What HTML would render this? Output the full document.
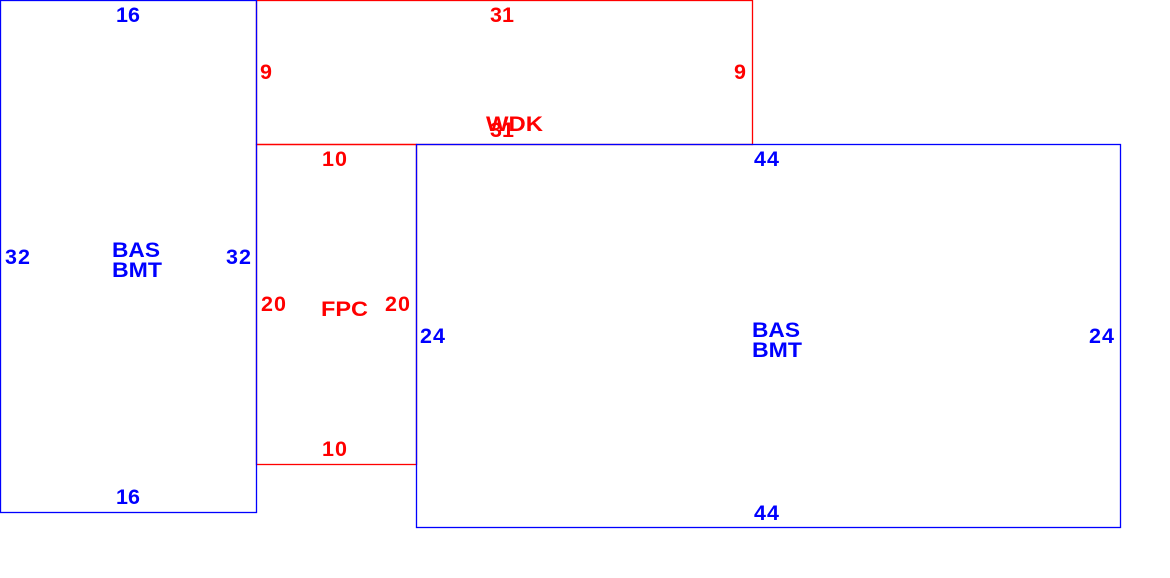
<!DOCTYPE html>
<html><head><style>html,body{margin:0;padding:0;background:#fff;}svg{display:block;}</style></head>
<body>
<svg width="1170" height="578" xmlns="http://www.w3.org/2000/svg" font-family="Liberation Sans, Arial, sans-serif" font-weight="bold" font-size="21.5">
<rect x="0" y="0" width="1170" height="578" fill="#fff"/>
<g fill="none" stroke-width="1.3">
<rect x="256.5" y="0.5" width="496" height="144" stroke="#f00"/>
<rect x="256.5" y="144.5" width="160" height="320" stroke="#f00"/>
<rect x="0.5" y="0.5" width="256" height="512" stroke="#00f"/>
<rect x="416.5" y="144.5" width="704" height="383" stroke="#00f"/>
</g>
<g fill="#f00">
<text x="490" y="22" textLength="24">31</text>
<text x="260" y="79">9</text>
<text x="734" y="79">9</text>
<text x="490" y="137" textLength="24">31</text>
<text x="486" y="131" textLength="57" lengthAdjust="spacingAndGlyphs">WDK</text>
<text x="322" y="166" textLength="25">10</text>
<text x="261" y="311" textLength="25">20</text>
<text x="321" y="316" textLength="47" lengthAdjust="spacingAndGlyphs">FPC</text>
<text x="385" y="311" textLength="25">20</text>
<text x="322" y="456" textLength="25">10</text>
</g>
<g fill="#00f">
<text x="116" y="22" textLength="24">16</text>
<text x="754" y="166" textLength="25">44</text>
<text x="5" y="264" textLength="25">32</text>
<text x="112" y="257" textLength="48" lengthAdjust="spacingAndGlyphs">BAS</text>
<text x="112" y="277" textLength="50" lengthAdjust="spacingAndGlyphs">BMT</text>
<text x="226" y="264" textLength="25">32</text>
<text x="420" y="343" textLength="25">24</text>
<text x="752" y="337" textLength="48" lengthAdjust="spacingAndGlyphs">BAS</text>
<text x="752" y="357" textLength="50" lengthAdjust="spacingAndGlyphs">BMT</text>
<text x="1089" y="343" textLength="25">24</text>
<text x="116" y="504" textLength="24">16</text>
<text x="754" y="520" textLength="25">44</text>
</g>
</svg>
</body></html>
